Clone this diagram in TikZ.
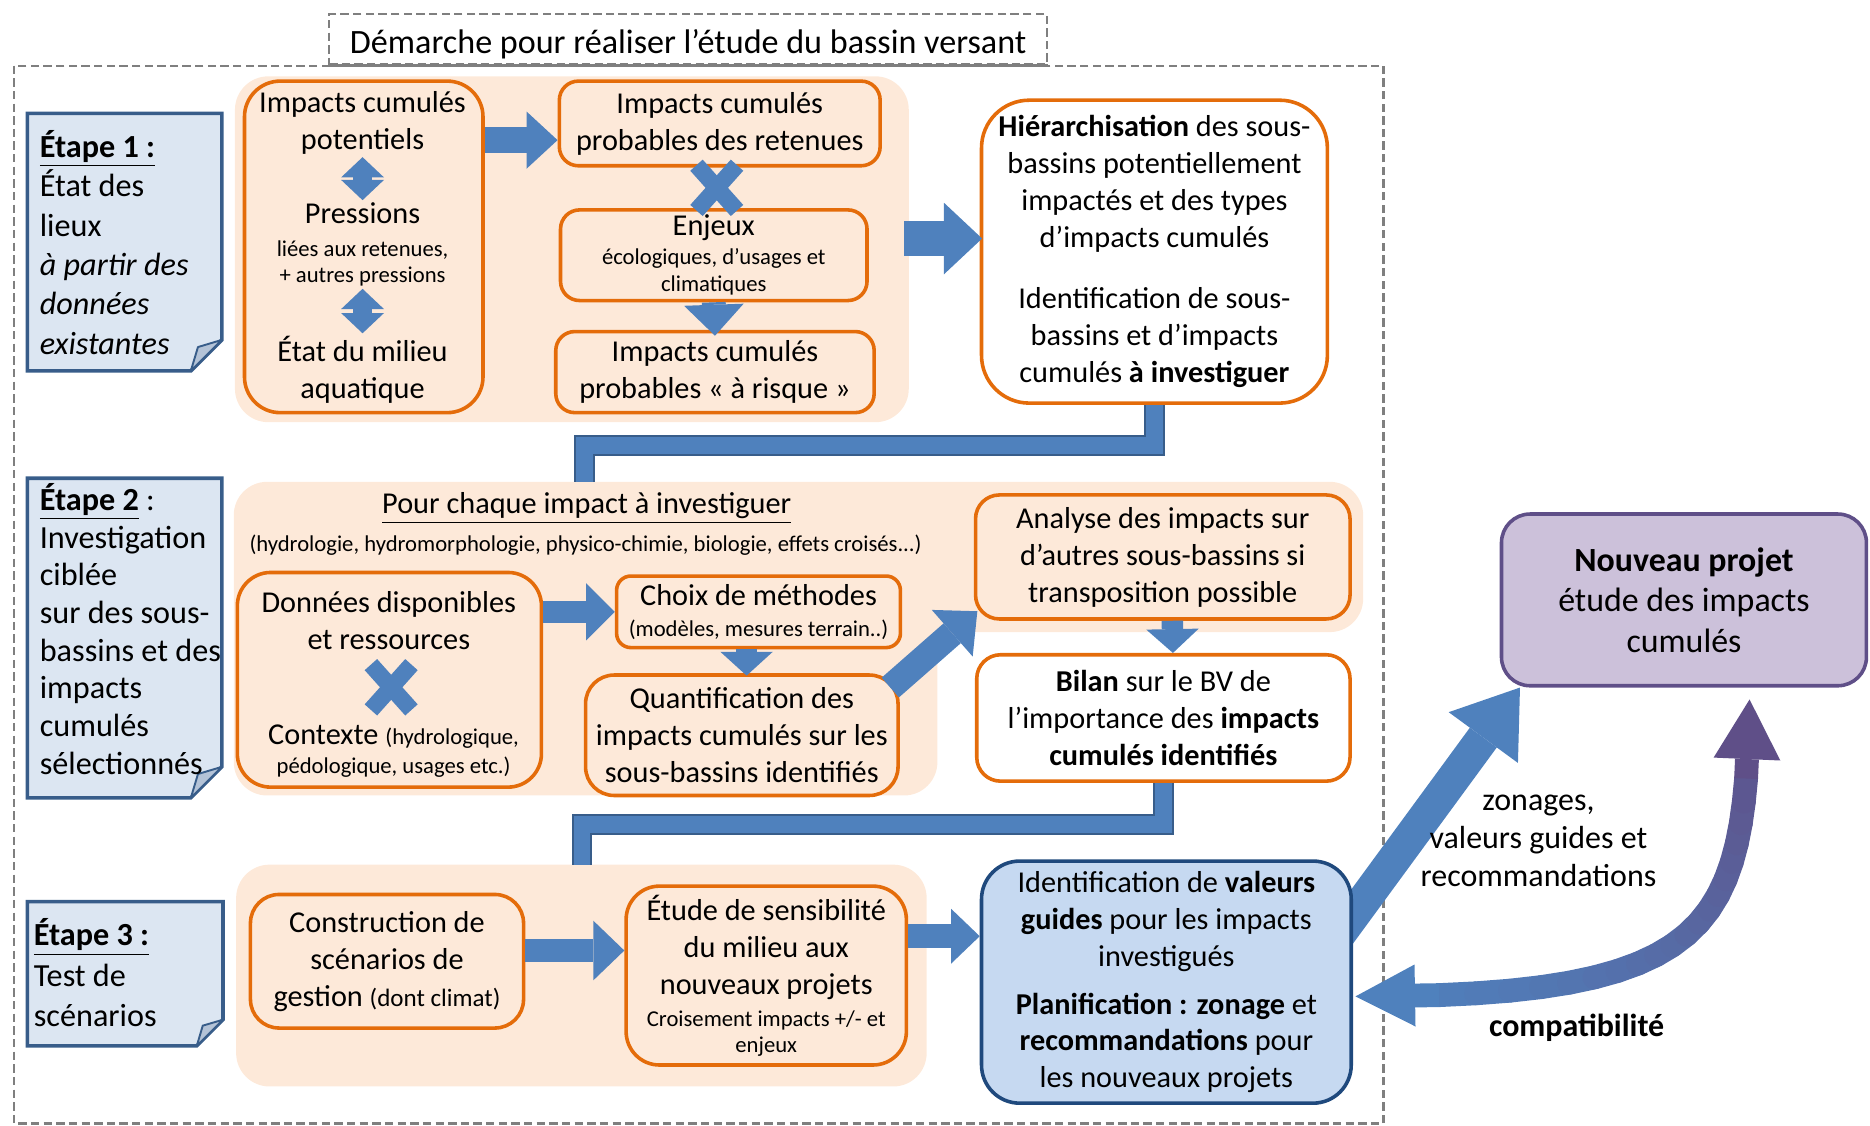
\documentclass[tikz,border=0pt]{standalone}
\usepackage{fontspec}
\setmainfont{Carlito}
\usepackage{tikz}
\usetikzlibrary{arrows.meta,calc,fit,positioning}

\definecolor{peach}{HTML}{FDE9D9}
\definecolor{orangeline}{HTML}{E46C0A}
\definecolor{arrowblue}{HTML}{4F81BD}
\definecolor{darkblue}{HTML}{385D8A}
\definecolor{stepblue}{HTML}{DCE6F2}
\definecolor{foldgray}{HTML}{B4C3D7}
\definecolor{valblue}{HTML}{C6D9F1}
\definecolor{navyline}{HTML}{1F497D}
\definecolor{lilac}{HTML}{CCC1DA}
\definecolor{projviolet}{HTML}{5F4F88}
\definecolor{framegray}{HTML}{7F7F7F}

\newcommand\bodytxt{\fontsize{12.7}{15.5}\selectfont}
\newcommand\petit{\fontsize{9.5}{11.5}\selectfont}
\newcommand\etapefont{\fontsize{13.5}{16.5}\selectfont}

\begin{document}
\begin{tikzpicture}[x=0.5pt,y=-0.5pt,
  every node/.style={font=\bodytxt},
  obox/.style={draw=orangeline, line width=1.5pt, fill=peach, rounded corners=#1, inner sep=0pt},
  obox/.default=8pt,
  wbox/.style={obox=#1, fill=white},
  wbox/.default=8pt,
  txt/.style={align=center, inner sep=1pt},
  bgzone/.style={fill=peach, rounded corners=14pt},
  frame/.style={draw=framegray, line width=0.9pt, dash pattern=on 3.5pt off 1.8pt},
  stepbox/.style={fill=stepblue, draw=darkblue, line width=1.5pt},
  fold/.style={fill=foldgray, draw=darkblue, line width=0.8pt, line join=round},
  steptext/.style={anchor=north west, align=left, inner sep=0pt, font=\etapefont},
  barrow/.style n args={3}{draw=arrowblue, line width=#1, -{Triangle[width=#2,length=#3,line width=0pt]}},
  dbarrow/.style n args={3}{draw=arrowblue, line width=#1, {Triangle[width=#2,length=#3,line width=0pt]}-{Triangle[width=#2,length=#3,line width=0pt]}},
  xmark/.style={draw=arrowblue, line width=7pt},
  link/.style={draw=darkblue, line width=0.8pt, double=arrowblue, double distance=7pt},
]
  \useasboundingbox (0,0) rectangle (1568,944);

  % cadre
  \draw[frame] (12,55) rectangle (1160,942);
  \node[frame, fill=white, inner sep=0pt, fit={(276,12) (878,54)}] (titre) {};
  \draw[framegray, line width=0.9pt] (titre.south west) -- (titre.south east);
  \node[txt, font=\fontsize{14.3}{16}\selectfont] at ($(titre.center)+(0,4)$) {Démarche pour réaliser l'étude du bassin versant};

  % etape 1
  \draw[stepbox] (23,95) -- (186,95) -- (186,285) -- (160,311) -- (23,311) -- cycle;
  \draw[fold] (160,311) -- (166,291) -- (186,285) -- cycle;
  \node[steptext] (e1) at (33,109) {\underline{\textbf{Étape 1 :}}\\État des\\lieux\\\textit{à partir des}\\\textit{données}\\\textit{existantes}};

  \node[bgzone, inner sep=0pt, fit={(197,64) (762,354)}] (bg1) {};
  \node[obox=15pt, fit={(205,68) (405,346)}] (a1) {};
  \node[txt] (p1) at (304,103) {Impacts cumulés\\potentiels};
  \node[txt] (p2) at (304,205) {Pressions\\[-2pt]{\petit liées aux retenues,}\\[-4.5pt]{\petit + autres pressions}};
  \node[txt] (p3) at (304,310) {État du milieu\\aquatique};
  \draw[dbarrow={8pt}{18pt}{8.5pt}] (p1) -- (p2);
  \draw[dbarrow={8pt}{18pt}{8.5pt}] (p2) -- (p3);

  \node[obox=8pt, fit={(469,68) (738,139)}] (a2) {};
  \node[txt] at (a2.center) {Impacts cumulés\\probables des retenues};
  \node[obox=8pt, fit={(470,176) (727,252)}] (a3) {};
  \node[txt] at (a3.center) {Enjeux\\[-3.5pt]{\petit écologiques, d'usages et}\\[-4pt]{\petit climatiques}};
  \node[obox=8pt, fit={(466,278) (733,346)}] (a4) {};
  \node[txt] at (a4.center) {Impacts cumulés\\probables «~à risque~»};
  \draw[barrow={11pt}{24pt}{13pt}] ($(a1.east |- a2.west)+(0,14)$) -- ($(a2.west)+(0,14)$);
  \coordinate (xa) at ($(a2.south)!0.5!(a3.north)$);
  \draw[xmark] ($(xa)+(-17,-19)$) -- ($(xa)+(17,19)$);
  \draw[xmark] ($(xa)+(-17,19)$) -- ($(xa)+(17,-19)$);
  \draw[barrow={10pt}{25pt}{13pt}] (a3.south) -- ($(a4.north)+(0,5)$);

  \node[wbox=20pt, fit={(823,84) (1113,338)}] (h) {};
  \node[txt] at (h.center) {\textbf{Hiérarchisation} des sous-\\bassins potentiellement\\impactés et des types\\d'impacts cumulés\\[10pt]Identification de sous-\\bassins et d'impacts\\cumulés \textbf{à investiguer}};
  \draw[barrow={15pt}{30pt}{16pt}] ($(bg1.east |- h.west)+(-4,-11)$) -- ($(h.west)+(2,-11)$);

  % etape 2
  \draw[stepbox] (23,401) -- (186,401) -- (186,643) -- (160,669) -- (23,669) -- cycle;
  \draw[fold] (160,669) -- (166,649) -- (186,643) -- cycle;
  \node[steptext, font=\fontsize{13.5}{15.8}\selectfont] (e2) at (33,405) {\underline{\textbf{Étape 2}} :\\Investigation\\ciblée\\sur des sous-\\bassins et des\\impacts\\cumulés\\sélectionnés};

  \fill[bgzone] (196,404) -- (1143,404) -- (1143,530) -- (786,530) -- (786,667) -- (196,667) -- cycle;
  \coordinate (in2) at (490,404);
  \node (pc) at (492,426) {\underline{Pour chaque impact à investiguer}};
  \node[font=\petit] (hy) at (491,457) {(hydrologie, hydromorphologie, physico-chimie, biologie, effets croisés...)};

  \node[obox=14pt, fit={(199,480) (454,660)}] (b1) {};
  \node[txt] (d1) at (326,520) {Données disponibles\\et ressources};
  \node[txt] (d2) at (330,630) {Contexte {\petit (hydrologique,}\\[-3.5pt]{\petit pédologique, usages etc.)}};
  \coordinate (xb) at ($(d1.south)!0.5!(d2.north)$);
  \draw[xmark] ($(xb)+(-17,-19)$) -- ($(xb)+(17,19)$);
  \draw[xmark] ($(xb)+(-17,19)$) -- ($(xb)+(17,-19)$);

  \node[obox=6pt, fit={(517,483) (755,543)}] (b2) {};
  \node[txt] at (b2.center) {Choix de méthodes\\[-2.5pt]{\petit (modèles, mesures terrain..)}};
  \node[obox=12pt, fit={(491,566) (753,667)}] (b3) {};
  \node[txt] at (b3.center) {Quantification des\\impacts cumulés sur les\\sous-bassins identifiés};
  \node[obox=10pt, fit={(818,415) (1132,519)}] (b4) {};
  \node[txt] at (b4.center) {Analyse des impacts sur\\d'autres sous-bassins si\\transposition possible};
  \node[wbox=10pt, fit={(819,549) (1132,655)}] (b5) {};
  \node[txt] at (b5.center) {\textbf{Bilan} sur le BV de\\l'importance des \textbf{impacts}\\\textbf{cumulés identifiés}};

  \draw[barrow={9pt}{24pt}{12pt}] (b1.east |- b2.west) -- (b2.west);
  \draw[barrow={9pt}{22pt}{10pt}] ($(b2.south)+(-10,0)$) -- ($(b2.south |- b3.north)+(-10,2)$);
  \draw[barrow={11pt}{26pt}{14pt}] ($(b3.north east)+(-8,12)$) -- ($(b4.south west)+(3,-8)$);
  \draw[barrow={9pt}{22pt}{10pt}] ($(b4.south)+(8,0)$) -- ($(b5.north)+(8,0)$);

  % etape 3
  \draw[stepbox] (23,756) -- (187,756) -- (187,855) -- (165,877) -- (23,877) -- cycle;
  \draw[fold] (165,877) -- (170,860) -- (187,855) -- cycle;
  \node[steptext, font=\fontsize{13.5}{17}\selectfont] (e3) at (28,770) {\underline{\textbf{Étape 3 :}}\\Test de\\scénarios};

  \fill[bgzone] (198,725) rectangle (777,911);
  \coordinate (in3) at (488,725);
  \node[obox=12pt, fit={(210,750) (439,862)}] (c1) {};
  \node[txt] at (c1.center) {Construction de\\scénarios de\\gestion {\fontsize{10.5}{12}\selectfont (dont climat)}};
  \node[obox=14pt, fit={(525,743) (760,893)}] (c2) {};
  \node[txt] at (c2.center) {Étude de sensibilité\\du milieu aux\\nouveaux projets\\[-2pt]{\petit Croisement impacts +/- et}\\[-4.5pt]{\petit enjeux}};
  \draw[barrow={10pt}{25pt}{13pt}] ($(c1.east)+(0,-9)$) -- ($(c2.west |- c1.east)+(0,-9)$);

  % projet
  \node[draw=projviolet, line width=1.5pt, fill=lilac, rounded corners=12pt, inner sep=0pt, fit={(1259,431) (1565,575)}] (n) {};
  \node[txt, font=\fontsize{14.2}{17}\selectfont] at (n.center) {\textbf{Nouveau projet}\\étude des impacts\\cumulés};
  \coordinate (dv) at (1118,790);
  \draw[barrow={14pt}{36pt}{26pt}] (dv) -- ($(n.south west)+(17,0)$);

  \node[draw=navyline, line width=1.5pt, fill=valblue, rounded corners=16pt, inner sep=0pt, fit={(823,722) (1133,925)}] (d) {};
  \node[txt] at (d.center) {Identification de \textbf{valeurs}\\\textbf{guides} pour les impacts\\investigués\\[4.5pt]\textbf{Planification~: zonage} et\\\textbf{recommandations} pour\\les nouveaux projets};
  \draw[barrow={10pt}{23pt}{12pt}] ($(c2.east)+(0,-33)$) -- ($(d.west |- c2.east)+(0,-33)$);

  \node[txt, font=\fontsize{13.4}{16}\selectfont] (zl) at (1290,705) {zonages,\\valeurs guides et\\recommandations};
  \node[font=\fontsize{13.4}{16}\selectfont\bfseries] (cp) at (1322,862) {compatibilité};

  % fleche courbe
  \coordinate (ct) at ($(d.east)+(2,12)$);
  \coordinate (nt) at ($(n.south)+(55,10)$);
  \path (ct) .. controls (1440,836) and (1463,780) .. (nt) foreach \i in {0,...,24}{coordinate[pos=\i/24] (g\i)};
  \foreach \i [evaluate=\i as \j using int(\i+1), evaluate=\i as \k using int(100*\i/24)] in {2,...,20}
    \draw[projviolet!\k!arrowblue, line width=10pt, line cap=round] (g\i) -- (g\j);
  \draw[arrowblue, line width=10pt, -{Triangle[width=26pt,length=25pt,line width=0pt]}] (g2) -- (g0);
  \draw[projviolet, line width=10pt, -{Triangle[width=28pt,length=25pt,line width=0pt]}] (g21) -- (g24);

  % liaisons
  \draw[link] (h.south) -- ++(0,34) -| (in2);
  \draw[link] (b5.south) -- ++(0,35) -| (in3);

\end{tikzpicture}
\end{document}
